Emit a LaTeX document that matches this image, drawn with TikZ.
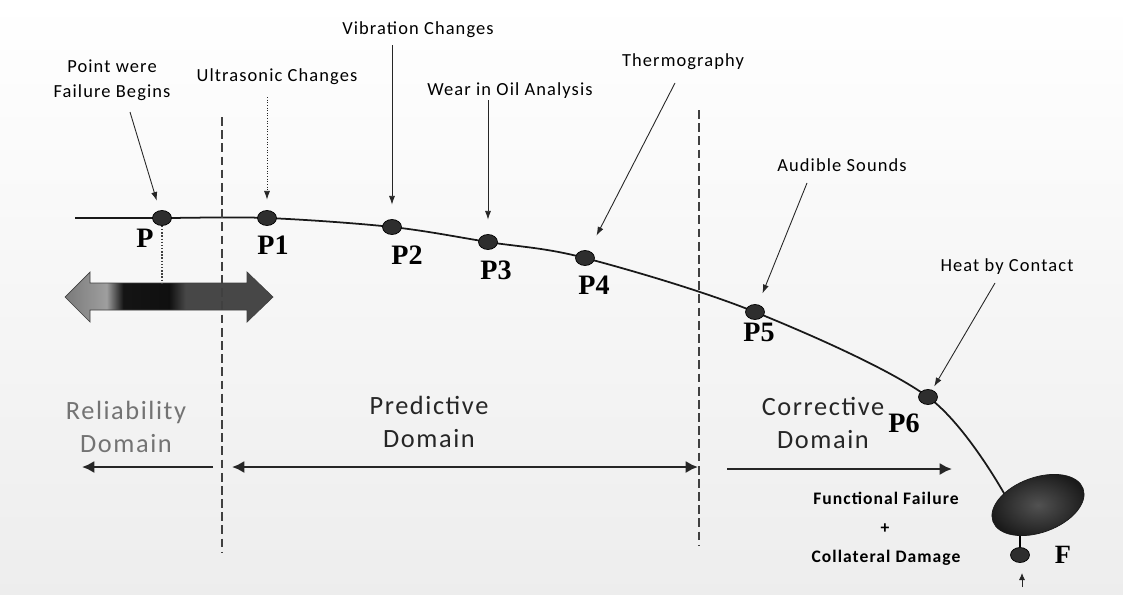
\documentclass[tikz,border=0pt]{standalone}
\usepackage{fontspec}
\setmainfont{Carlito}
\newfontfamily\lblfont[LetterSpace=6]{Carlito}
\newfontfamily\pfont{Liberation Serif}
\usetikzlibrary{arrows.meta,shapes.geometric,backgrounds}

% band of the P arrow: dark ends, lighter patch, black block at P
\pgfdeclarehorizontalshading{pfband}{100bp}{color(0bp)=(black!78); color(12bp)=(black!72);
  color(25bp)=(black!52); color(35bp)=(black!38); color(39bp)=(black!92);
  color(50bp)=(black!94); color(54bp)=(black!72); color(88bp)=(black!72);
  color(100bp)=(black!80)}

\begin{document}
\begin{tikzpicture}[x=0.02cm, y=-0.02cm,
    lbl/.style={font=\lblfont\fontsize{10.5}{13.5}\selectfont, inner sep=0pt, align=center},
    fail lbl/.style={font=\lblfont\bfseries\fontsize{10}{12}\selectfont, inner sep=0pt},
    dom/.style={font=\lblfont\fontsize{15}{18.7}\selectfont, inner sep=0pt, align=center, black!85},
    ptag/.style={font=\pfont\bfseries\fontsize{16}{18}\selectfont, inner sep=0pt},
    pdot/.style={ellipse, draw=black, fill=black!82, minimum width=0.38cm, minimum height=0.3cm, inner sep=0pt},
    tagarrow/.style={-{Latex[length=5pt,width=3.5pt]}, line width=0.5pt, black!85},
    pfcurve/.style={line width=1pt, black!90},
    divider/.style={dash pattern=on 5pt off 2.5pt, line width=0.8pt, black!75},
    domspan/.style={line width=1.6pt, black!85}]
\useasboundingbox (0,0) rectangle (1123,595);

% points on the P-F curve
\node[pdot] (p0) at (162,218) {};
\node[pdot] (p1) at (267,218) {};
\node[pdot] (p2) at (392,227) {};
\node[pdot] (p3) at (488,242) {};
\node[pdot] (p4) at (585,258) {};
\node[pdot] (p5) at (755,312) {};
\node[pdot] (p6) at (928,397) {};
\node[pdot] (f) at (1020,555) {};
\node[ellipse, rotate=20, minimum width=1.92cm, minimum height=1.1cm, draw=black!90,
      inner color=black!68, outer color=black!90] (fail) at (1038,505) {};
\coordinate (cstart) at (75,218);
\coordinate (cend) at (1005,495);

\begin{pgfonlayer}{background}
  \shade[top color=white, bottom color=black!7] (0,0) rectangle (1123,595);
  \draw[pfcurve] plot[smooth, tension=0.55] coordinates {(cstart) (p0) (p1) (p2) (p3) (p4) (p5) (p6) (cend)};
  \draw[line width=1pt] (f) -- ++(0,-32);
\end{pgfonlayer}

\node[ptag] (nP) at (145,238) {P};
\node[ptag] (nP1) at (273,245) {P1};
\node[ptag] (nP2) at (407,255) {P2};
\node[ptag] (nP3) at (496,270) {P3};
\node[ptag] (nP4) at (594,285) {P4};
\node[ptag] (nP5) at (759,332) {P5};
\node[ptag] (nP6) at (904,423) {P6};
\node[ptag, font=\pfont\bfseries\fontsize{15}{18}\selectfont] (nF) at (1063,555) {F};

% techniques and their arrows
\node[lbl] (lblBegin) at (112,80) {Point were\\[1pt]Failure Begins};
\node[lbl] (lblUltra) at (277,77) {Ultrasonic Changes};
\node[lbl] (lblVib) at (418,30) {Vibration Changes};
\node[lbl] (lblWear) at (510,91) {Wear in Oil Analysis};
\node[lbl] (lblThermo) at (683,62) {Thermography};
\node[lbl] (lblAudible) at (842,165) {Audible Sounds};
\node[lbl] (lblHeat) at (1007,267) {Heat by Contact};
\coordinate (tBegin) at (130,112);
\coordinate (tUltra) at (267,97);
\coordinate (tVib) at (392,45);
\coordinate (tWear) at (488,100);
\coordinate (tThermo) at (675,83);
\coordinate (tAudible) at (807,183);
\coordinate (tHeat) at (995,283);
\draw[tagarrow, shorten >=0.2cm] (tBegin) -- (p0);
\draw[tagarrow, densely dotted, shorten >=0.21cm] (tUltra) -- (p1);
\draw[tagarrow, shorten >=0.29cm] (tVib) -- (p2);
\draw[tagarrow, shorten >=0.29cm] (tWear) -- (p3);
\draw[tagarrow, shorten >=0.34cm] (tThermo) -- (p4);
\draw[tagarrow, shorten >=0.24cm] (tAudible) -- (p5);
\draw[tagarrow, shorten >=0.08cm] (tHeat) -- (p6);

% wide arrow under P
\shade[shading=pfband, draw=black!75, line width=0.4pt]
  (65,297) -- (90,272) -- (90,283) -- (247,283) -- (247,272) -- (273,297)
  -- (247,322) -- (247,310) -- (90,310) -- (90,322) -- cycle;
\coordinate (pdrop) at (162,283);
\draw[densely dotted, line width=0.8pt, black!75] (p0) -- (pdrop);

% domain borders
\coordinate (d1top) at (222,117);
\coordinate (d1bot) at (222,552);
\coordinate (d2top) at (699,110);
\coordinate (d2bot) at (699,546);
\draw[divider] (d1top) -- (d1bot);
\draw[divider] (d2top) -- (d2bot);

\node[dom, black!55] (relDom) at (126,427) {Reliability\\Domain};
\node[dom] (preDom) at (429,422) {Predictive\\Domain};
\node[dom] (corDom) at (823,423) {Corrective\\Domain};
\coordinate (relL) at (82,467);
\coordinate (relR) at (213,467);
\coordinate (preL) at (232,467);
\coordinate (preR) at (698,467);
\coordinate (corL) at (727,469);
\coordinate (corR) at (952,469);
\draw[domspan, -{Latex[length=7pt,width=7pt]}] (relR) -- (relL);
\draw[domspan, {Latex[length=7pt,width=7pt]}-{Latex[length=7pt,width=7pt]}] (preL) -- (preR);
\draw[domspan, -{Latex[length=7pt,width=7pt]}] (corL) -- (corR);

\node[fail lbl] (lblFunc) at (886,498) {Functional Failure};
\node[fail lbl] (lblPlus) at (885,529) {+};
\node[fail lbl] (lblColl) at (886,558) {Collateral Damage};
\coordinate (fmark) at (1022,587);
\draw[tagarrow, -{Latex[length=4pt,width=3.5pt]}] (fmark) -- ++(0,-14);
\end{tikzpicture}
\end{document}
